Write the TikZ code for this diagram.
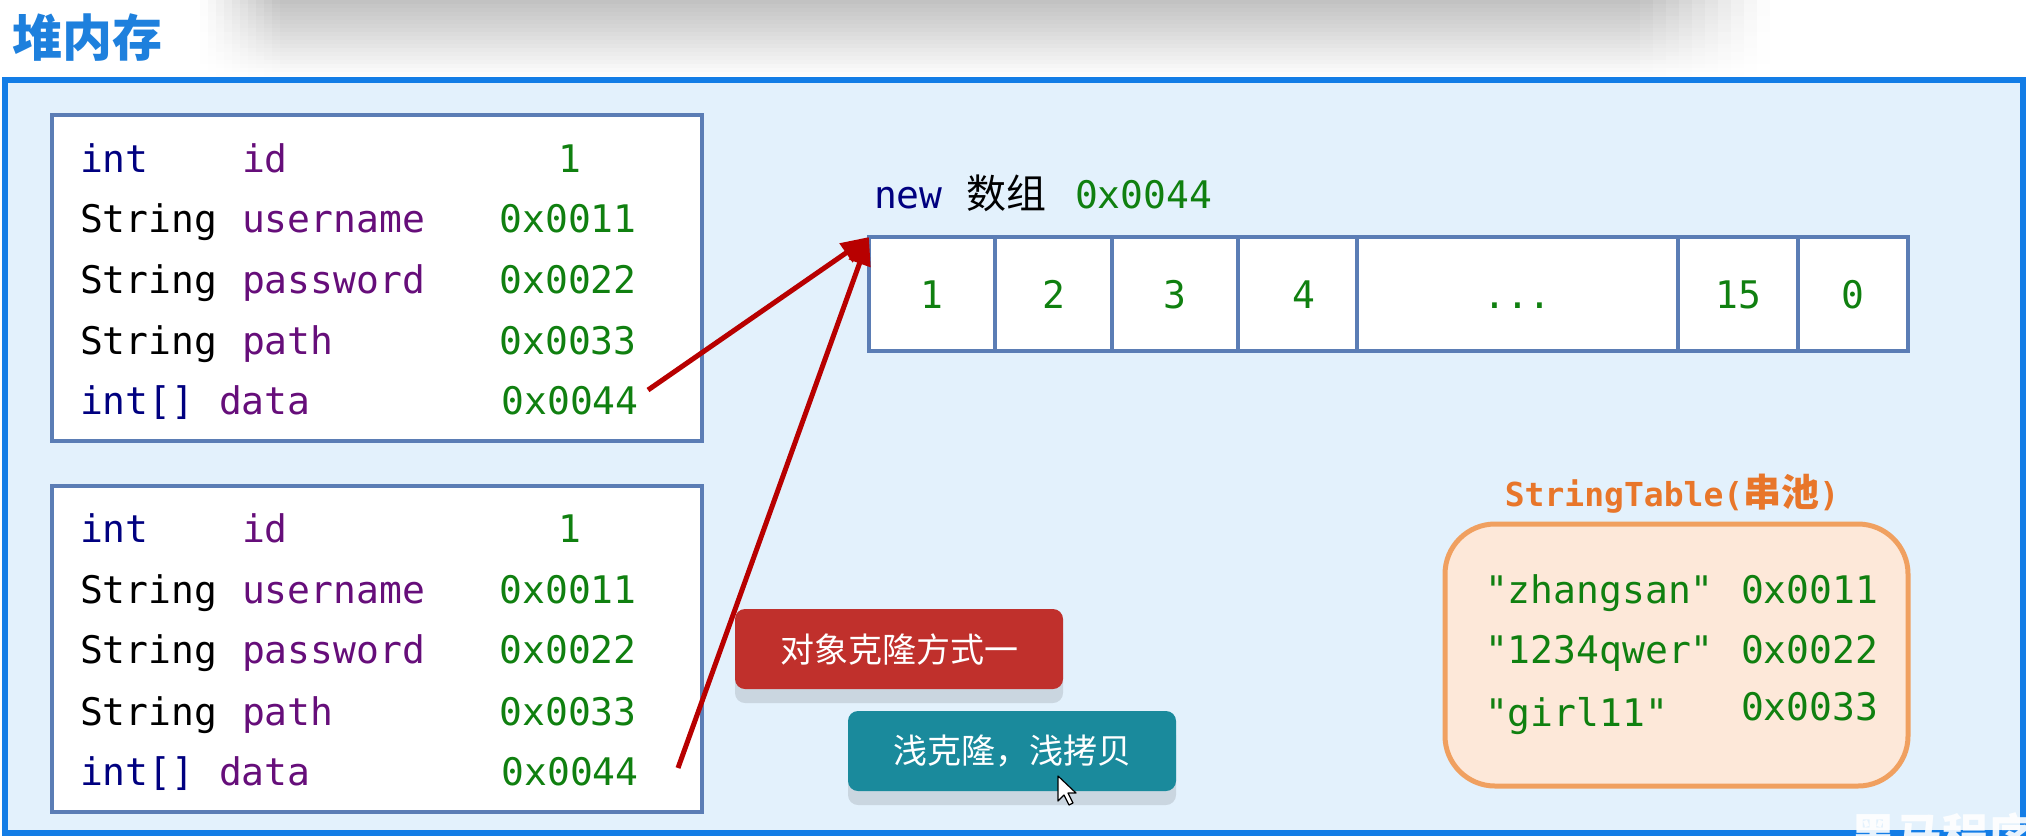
\documentclass[tikz,border=0pt]{standalone}
\usepackage{fontspec}
\setmainfont{Noto Sans CJK SC}
\setmonofont{DejaVu Sans Mono}
\newfontfamily\cjk{Noto Sans CJK SC}
\usetikzlibrary{arrows.meta,shadows}
\definecolor{kw}{HTML}{000080}
\definecolor{fld}{HTML}{660E7A}
\definecolor{num}{HTML}{108010}
\definecolor{cellb}{HTML}{5B7DB5}
\definecolor{panelb}{HTML}{137DE6}
\definecolor{panelf}{HTML}{E3F1FC}
\definecolor{arr}{HTML}{B80000}
\definecolor{btnr}{HTML}{C0302C}
\definecolor{btnt}{HTML}{1A8A9C}
\definecolor{orl}{HTML}{E8762A}
\definecolor{orb}{HTML}{F0A060}
\definecolor{orf}{HTML}{FDE8D9}
\definecolor{ttl}{HTML}{1E80DD}
\definecolor{shd}{HTML}{C2C2C2}
\newcommand\monof{\ttfamily\fontsize{19}{22}\selectfont}
\tikzset{
  objbox/.style={draw=cellb, line width=2pt, fill=white, inner sep=0pt, outer sep=0pt, anchor=north west},
  txt/.style={inner sep=0pt, outer sep=0pt, anchor=base west, font=\monof},
  val/.style={inner sep=0pt, outer sep=0pt, anchor=base, text=num, font=\monof},
  cell/.style={draw=cellb, line width=2pt, fill=white, inner sep=0pt, outer sep=0pt, anchor=north west,
    minimum height=57pt, text=num, font=\monof, text height=14pt, text depth=0pt},
  btn/.style={rounded corners=5pt, inner sep=0pt, outer sep=0pt, anchor=north west, text=white,
    font=\cjk\fontsize{17}{20}\selectfont, minimum width=164pt, minimum height=40pt,
    drop shadow={shadow xshift=0pt, shadow yshift=-7pt, fill=black, opacity=0.11}},
  ptr/.style={draw=arr, line width=2.5pt, -{Triangle[length=14pt,width=11pt]}},
}
\begin{document}
\begin{tikzpicture}[x=0.5pt, y=-0.5pt]
\useasboundingbox (0,0) rectangle (2028,837);
\clip (0,0) rectangle (2028,837);
\fill[white] (0,0) rectangle (2028,837);
% top shadow (soft), solid strips
\foreach \j in {0,...,19}{
  \pgfmathtruncatemacro\p{100*(1-\j/19)}
  \fill[shd!\p!white] (280,4*\j) rectangle (1640,4*\j+4.3);
  \foreach \k in {0,...,9}{
    \pgfmathtruncatemacro\q{\p*(\k+0.5)/10}
    \pgfmathtruncatemacro\r{\p*(9.5-\k)/10}
    \fill[shd!\q!white] (200+8*\k,4*\j) rectangle (208.3+8*\k,4*\j+4.3);
    \fill[shd!\r!white] (1640+13*\k,4*\j) rectangle (1653.3+13*\k,4*\j+4.3);
  }
}
% title
\node (title) [inner sep=0pt, anchor=base west, text=ttl, font=\cjk\bfseries\fontsize{25}{28}\selectfont] at (12,56) {堆内存};
% panel
\node (panel) [draw=panelb, line width=3pt, fill=panelf, inner sep=0pt, outer sep=0pt, anchor=north west,
  minimum width=1009pt, minimum height=376.5pt] at (5,80) {};
% object boxes
\node (obj1) [objbox, minimum width=325pt, minimum height=163pt] at (52,115) {};
\node (obj2) [objbox, minimum width=325pt, minimum height=163pt] at (52,486) {};
% box 1 rows
\node (a1) [txt, text=kw] at (80,172) {int};
\node (b1) [txt, text=fld] at (242,172) {id};
\node (v1) [val] at (570,172) {1};
\node (a2) [txt] at (80,232) {String};
\node (b2) [txt, text=fld] at (242,232) {username};
\node (v2) [val] at (568,232) {0x0011};
\node (a3) [txt] at (80,293) {String};
\node (b3) [txt, text=fld] at (242,293) {password};
\node (v3) [val] at (568,293) {0x0022};
\node (a4) [txt] at (80,354) {String};
\node (b4) [txt, text=fld] at (242,354) {path};
\node (v4) [val] at (568,354) {0x0033};
\node (a5) [txt, text=kw] at (80,414) {int[]};
\node (b5) [txt, text=fld] at (219,414) {data};
\node (v5) [val] at (570,414) {0x0044};
% box 2 rows
\node (c1r) [txt, text=kw] at (80,542) {int};
\node (d1) [txt, text=fld] at (242,542) {id};
\node (w1) [val] at (570,542) {1};
\node (c2r) [txt] at (80,603) {String};
\node (d2) [txt, text=fld] at (242,603) {username};
\node (w2) [val] at (568,603) {0x0011};
\node (c3r) [txt] at (80,663) {String};
\node (d3) [txt, text=fld] at (242,663) {password};
\node (w3) [val] at (568,663) {0x0022};
\node (c4r) [txt] at (80,725) {String};
\node (d4) [txt, text=fld] at (242,725) {path};
\node (w4) [val] at (568,725) {0x0033};
\node (c5r) [txt, text=kw] at (80,785) {int[]};
\node (d5) [txt, text=fld] at (219,785) {data};
\node (w5) [val] at (570,785) {0x0044};
% array label
\node (nw) [txt, text=kw] at (874,208) {new};
\node (sz) [inner sep=0pt, anchor=base west, font=\cjk\fontsize{20}{22}\selectfont] at (966,208) {数组};
\node (ad) [txt, text=num] at (1075,208) {0x0044};
% array cells
\node (k1) [cell, minimum width=63pt] at (869,237) {1};
\node (k2) [cell, minimum width=58.5pt] at (995,237) {2};
\node (k3) [cell, minimum width=63pt] at (1112,237) {3};
\node (k4) [cell, minimum width=59.5pt] at (1238,237) {\hspace{6pt}4};
\node (k5) [cell, minimum width=160.5pt] at (1357,237) {...};
\node (k6) [cell, minimum width=60pt] at (1678,237) {15};
\node (k7) [cell, minimum width=55pt] at (1798,237) {0\hspace{10pt}};
% arrows
\coordinate (s1) at (648,390);
\coordinate (s2) at (678,768);
\draw[ptr] (s1) -- (k1.north west);
\draw[ptr] (s2) -- (k1.north west);
% buttons
\node (btn1) [btn, fill=btnr] at (735,609) {对象克隆方式一};
\node (btn2) [btn, fill=btnt] at (848,711) {浅克隆，浅拷贝};
% cursor
\draw[black, fill=white, line width=0.6pt, line join=round]
  (1058,776) -- (1058,801) -- (1064,795) -- (1069,805) -- (1073,803) -- (1068,793) -- (1076,793) -- cycle;
% string table
\node (stl) [inner sep=0pt, anchor=base, text=orl, font=\monof\bfseries\fontsize{16.5}{20}\selectfont] at (1672,506)
  {StringTable({\cjk\bfseries\fontsize{19}{20}\selectfont 串池})};
\node (pool) [draw=orb, line width=2.5pt, fill=orf, rounded corners=25pt, inner sep=0pt, outer sep=0pt,
  anchor=north west, minimum width=231.5pt, minimum height=131pt] at (1445,524) {};
\node (p1) [txt, text=num] at (1485,603) {"zhangsan"};
\node (q1) [txt, text=num] at (1741,603) {0x0011};
\node (p2) [txt, text=num] at (1485,663) {"1234qwer"};
\node (q2) [txt, text=num] at (1741,663) {0x0022};
\node (p3) [txt, text=num] at (1485,726) {"girl11"};
\node (q3) [txt, text=num] at (1741,720) {0x0033};
% watermark
\node (wm) [inner sep=0pt, anchor=base west, text=white, opacity=0.9, font=\cjk\bfseries\fontsize{23}{26}\selectfont] at (1850,852) {黑马程序员};
\end{tikzpicture}
\end{document}
